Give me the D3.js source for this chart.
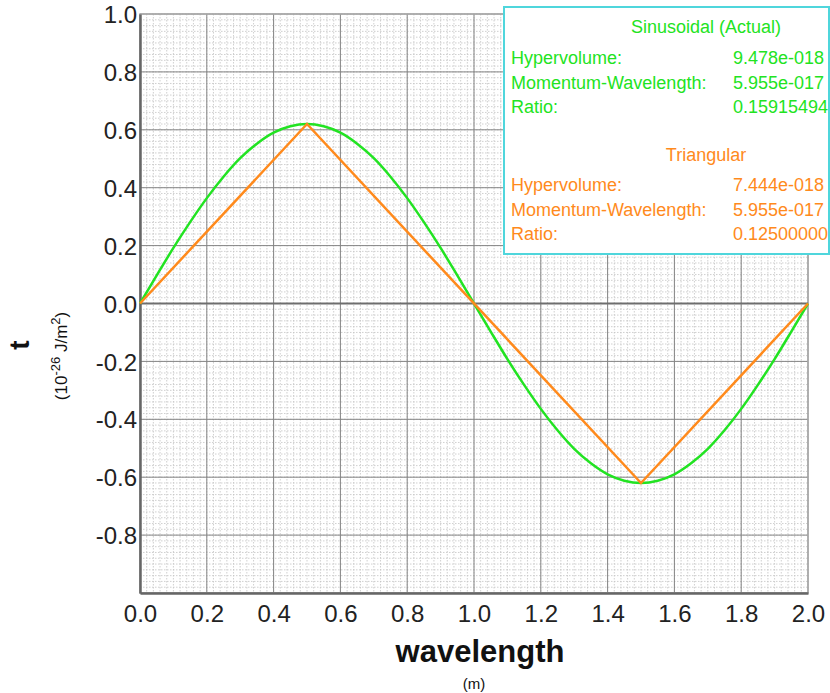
<!DOCTYPE html>
<html>
<head>
<meta charset="UTF-8">
<title>Sinusoidal vs Triangular</title>
<style>
  body{margin:0;background:#fff;font-family:"Liberation Sans",Arial,sans-serif;}
</style>
</head>
<body>
<script src="https://cdn.jsdelivr.net/npm/d3@7"></script>
<script>
// wavelength samples and readings
var sineX = [0,0.05,0.1,0.15,0.2,0.25,0.3,0.35,0.4,0.45,0.5,0.55,0.6,0.65,0.7,0.75,0.8,0.85,0.9,0.95,1.0,
             1.05,1.1,1.15,1.2,1.25,1.3,1.35,1.4,1.45,1.5,1.55,1.6,1.65,1.7,1.75,1.8,1.85,1.9,1.95,2.0];
var sineY = [0,0.097,0.192,0.281,0.364,0.438,0.502,0.552,0.590,0.612,0.620,0.612,0.590,0.552,0.502,0.438,0.364,0.281,0.192,0.097,0,
             -0.097,-0.192,-0.281,-0.364,-0.438,-0.502,-0.552,-0.590,-0.612,-0.620,-0.612,-0.590,-0.552,-0.502,-0.438,-0.364,-0.281,-0.192,-0.097,0];
var triX = [0,0.5,1.5,2.0];
var triY = [0,0.62,-0.62,0];

var xTicks = [0,0.2,0.4,0.6,0.8,1.0,1.2,1.4,1.6,1.8,2.0];
var yTicks = [-0.8,-0.6,-0.4,-0.2,0,0.2,0.4,0.6,0.8,1.0];

var legendSine = [["Hypervolume:","9.478e-018"],["Momentum-Wavelength:","5.955e-017"],["Ratio:","0.15915494"]];
var legendTri = [["Hypervolume:","7.444e-018"],["Momentum-Wavelength:","5.955e-017"],["Ratio:","0.12500000"]];

var green = "#22e322", orange = "#ff8a1c";

var W = 830, H = 693;
var mL = 140, mR = 808, mT = 14, mB = 593;

var svg = d3.select("body").append("svg").attr("width",W).attr("height",H);

var x = d3.scaleLinear().domain([0,2]).range([mL,mR]);
var y = d3.scaleLinear().domain([-1,1]).range([mB,mT]);

// plain hyphen for negatives, like the original
var fmt = function(d){ return (Math.abs(d) < 1e-9 ? 0 : d).toFixed(1); };

// minor grid (dotted)
var minorX = d3.range(0,2.0001,0.02), minorY = d3.range(-1,1.0001,0.02);
svg.append("g").selectAll("line").data(minorX).enter().append("line")
  .attr("x1",function(d){return x(d);}).attr("x2",function(d){return x(d);})
  .attr("y1",mT).attr("y2",mB)
  .attr("stroke","#c4c4c4").attr("stroke-width",0.8).attr("stroke-dasharray","1.5,1.5");
svg.append("g").selectAll("line").data(minorY).enter().append("line")
  .attr("y1",function(d){return y(d);}).attr("y2",function(d){return y(d);})
  .attr("x1",mL).attr("x2",mR)
  .attr("stroke","#c4c4c4").attr("stroke-width",0.8).attr("stroke-dasharray","1.5,1.5");

// major grid
svg.append("g").selectAll("line").data(d3.range(0,2.0001,0.2)).enter().append("line")
  .attr("x1",function(d){return x(d);}).attr("x2",function(d){return x(d);})
  .attr("y1",mT).attr("y2",mB)
  .attr("stroke","#858585").attr("stroke-width",1);
svg.append("g").selectAll("line").data(d3.range(-1,1.0001,0.2)).enter().append("line")
  .attr("y1",function(d){return y(d);}).attr("y2",function(d){return y(d);})
  .attr("x1",mL).attr("x2",mR)
  .attr("stroke","#858585").attr("stroke-width",1);

// frame
svg.append("rect").attr("x",mL).attr("y",mT).attr("width",mR-mL).attr("height",mB-mT)
  .attr("fill","none").attr("stroke","#aaa").attr("stroke-width",1.5);
// zero line
svg.append("line").attr("x1",mL).attr("x2",mR).attr("y1",y(0)).attr("y2",y(0))
  .attr("stroke","#6e6e6e").attr("stroke-width",2);

// axes
var xAxis = d3.axisBottom(x).tickValues(xTicks).tickFormat(fmt).tickSize(0).tickPadding(12);
var yAxis = d3.axisLeft(y).tickValues(yTicks).tickFormat(fmt).tickSize(0).tickPadding(3);
var gx = svg.append("g").attr("transform","translate(0,"+mB+")").call(xAxis);
var gy = svg.append("g").attr("transform","translate("+mL+",0)").call(yAxis);
[gx,gy].forEach(function(g){
  g.select(".domain").attr("stroke","#666").attr("stroke-width",2.5);
  g.selectAll("text").style("font-family","'Liberation Sans',Arial,sans-serif").style("font-size","24px").attr("fill","#222");
});
gy.selectAll("text").attr("dy","0.36em");
gx.selectAll("text").attr("dy","0.71em");

// lines
var lineSine = d3.line().x(function(d){return x(d[0]);}).y(function(d){return y(d[1]);}).curve(d3.curveMonotoneX);
var lineTri = d3.line().x(function(d){return x(d[0]);}).y(function(d){return y(d[1]);});
svg.append("path").datum(d3.zip(sineX,sineY)).attr("d",lineSine)
  .attr("fill","none").attr("stroke",green).attr("stroke-width",2.5);
svg.append("path").datum(d3.zip(triX,triY)).attr("d",lineTri)
  .attr("fill","none").attr("stroke",orange).attr("stroke-width",2.5);

// axis titles
svg.append("text").attr("x",480).attr("y",662).attr("text-anchor","middle")
  .style("font-size","31px").style("font-weight","bold").attr("fill","#111").text("wavelength");
svg.append("text").attr("x",474).attr("y",689).attr("text-anchor","middle")
  .style("font-size","15px").attr("fill","#111").text("(m)");

svg.append("text").attr("transform","translate(29,345) rotate(-90)").attr("text-anchor","middle")
  .style("font-size","28px").style("font-weight","bold").attr("fill","#111").text("t");
var sub = svg.append("text").attr("transform","translate(67,356) rotate(-90)").attr("text-anchor","middle")
  .style("font-size","17px").attr("fill","#111");
sub.append("tspan").text("(10");
sub.append("tspan").attr("dy",-7).style("font-size","13px").text("-26");
sub.append("tspan").attr("dy",7).text(" J/m");
sub.append("tspan").attr("dy",-7).style("font-size","13px").text("2");
sub.append("tspan").attr("dy",7).text(")");

// legend box
var lg = svg.append("g");
lg.append("rect").attr("x",504).attr("y",7).attr("width",325).attr("height",247)
  .attr("fill","#fff").attr("stroke","#4fd6dc").attr("stroke-width",2);
function block(title, rows, color, yTitle, yRows){
  lg.append("text").attr("x",706).attr("y",yTitle).attr("text-anchor","middle")
    .style("font-size","18px").attr("fill",color).text(title);
  rows.forEach(function(r,i){
    lg.append("text").attr("x",511).attr("y",yRows+i*24.5).style("font-size","18px").attr("fill",color).text(r[0]);
    lg.append("text").attr("x",733).attr("y",yRows+i*24.5).style("font-size","18px").attr("fill",color).text(r[1]);
  });
}
block("Sinusoidal (Actual)", legendSine, green, 33, 64);
block("Triangular", legendTri, orange, 161, 191);
</script>
</body>
</html>
